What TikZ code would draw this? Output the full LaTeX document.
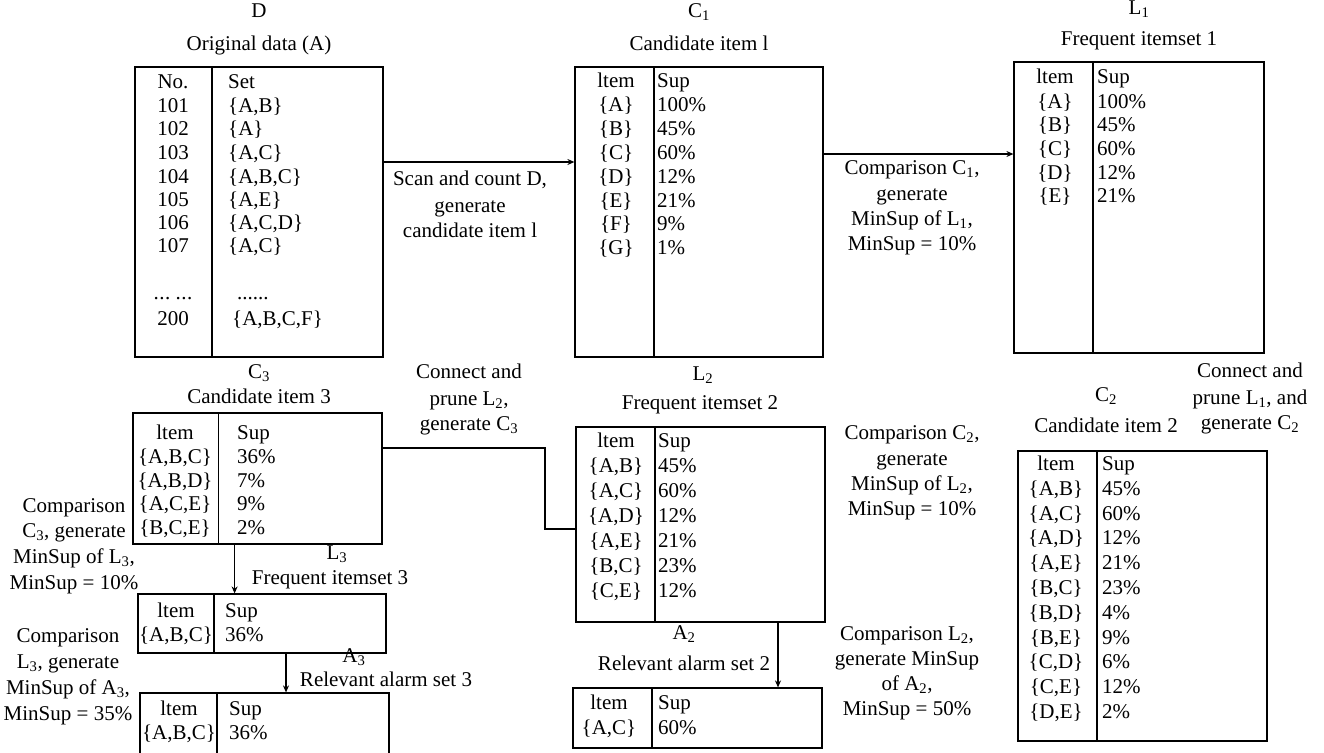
\documentclass[tikz,border=0pt]{standalone}
\usepackage{fontspec}
\setmainfont{Liberation Serif}
\usetikzlibrary{arrows.meta,fit}
\newcommand\tabfont{\fontsize{21}{25}\selectfont}
\begin{document}
\begin{tikzpicture}[x=1pt,y=-1pt,
  box/.style={draw, line width=1.2pt, inner sep=0pt},
  cell/.style={font=\tabfont, inner sep=0pt, anchor=mid},
  cellL/.style={font=\tabfont, inner sep=0pt, anchor=mid west},
  lbl/.style={font=\tabfont, inner sep=0pt, anchor=mid},
  rule/.style={line width=1.2pt},
  link/.style={line width=1.2pt},
  arr/.style={line width=1.2pt, -{Stealth[length=7pt,width=6pt]}}]
\useasboundingbox (0,0) rectangle (1324,752);

% ---------------- D: original data ----------------
\node[box, fit={(135,67) (383,357)}] (D) {};
\draw[rule] (212,67) -- (212,357);
\node[lbl] (D-name) at (259,15) {D};
\node[lbl] (D-title) at (259,48) {Original data (A)};
\foreach \y/\t in {86/No.,110/101,133/102,157/103,181/104,204/105,227/106,250/107,323/200}
  \node[cell] (D-a\y) at (173,\y) {\t};
\node[cell] (D-a297) at (173,297) {.\kern0.5pt.\kern0.5pt.\ .\kern0.5pt.\kern0.5pt.};
\foreach \y/\t in {86/Set,110/{\{A,B\}},133/{\{A\}},157/{\{A,C\}},181/{\{A,B,C\}},204/{\{A,E\}},227/{\{A,C,D\}},250/{\{A,C\}}}
  \node[cellL] (D-b\y) at (228,\y) {\t};
\node[cellL] (D-b297) at (237,297) {......};
\node[cellL] (D-b323) at (232,323) {\{A,B,C,F\}};

% ---------------- C1: candidate item 1 ----------------
\node[box, fit={(575,67) (823,357)}] (C1) {};
\draw[rule] (654,67) -- (654,357);
\node[lbl] (C1-name) at (699,15) {C\textsubscript{1}};
\node[lbl] (C1-title) at (699,48) {Candidate item l};
\foreach \y/\t in {85/ltem,109/{\{A\}},133/{\{B\}},157/{\{C\}},181/{\{D\}},205/{\{E\}},228/{\{F\}},252/{\{G\}}}
  \node[cell] (C1-a\y) at (616,\y) {\t};
\foreach \y/\t in {85/Sup,109/100\%,133/45\%,157/60\%,181/12\%,205/21\%,228/9\%,252/1\%}
  \node[cellL] (C1-b\y) at (657,\y) {\t};

% ---------------- L1: frequent itemset 1 ----------------
\node[box, fit={(1014,62) (1264,353)}] (L1) {};
\draw[rule] (1093,62) -- (1093,353);
\node[lbl] (L1-name) at (1139,12) {L\textsubscript{1}};
\node[lbl] (L1-title) at (1139,43) {Frequent itemset 1};
\foreach \y/\t in {81/ltem,106/{\{A\}},129/{\{B\}},153/{\{C\}},177/{\{D\}},200/{\{E\}}}
  \node[cell] (L1-a\y) at (1055,\y) {\t};
\foreach \y/\t in {81/Sup,106/100\%,129/45\%,153/60\%,177/12\%,200/21\%}
  \node[cellL] (L1-b\y) at (1097,\y) {\t};

% ---------------- C2: candidate item 2 ----------------
\node[box, fit={(1018,451) (1267,741)}] (C2) {};
\draw[rule] (1097,451) -- (1097,741);
\node[lbl] (C2-name) at (1106,399) {C\textsubscript{2}};
\node[lbl] (C2-title) at (1106,430) {Candidate item 2};
\foreach \y/\t in {468/ltem,493/{\{A,B\}},518/{\{A,C\}},542/{\{A,D\}},567/{\{A,E\}},592/{\{B,C\}},617/{\{B,D\}},642/{\{B,E\}},666/{\{C,D\}},691/{\{C,E\}},716/{\{D,E\}}}
  \node[cell] (C2-a\y) at (1056,\y) {\t};
\foreach \y/\t in {468/Sup,493/45\%,518/60\%,542/12\%,567/21\%,592/23\%,617/4\%,642/9\%,666/6\%,691/12\%,716/2\%}
  \node[cellL] (C2-b\y) at (1102,\y) {\t};

% ---------------- L2: frequent itemset 2 ----------------
\node[box, fit={(576,427) (825,622)}] (L2) {};
\draw[rule] (655,427) -- (655,622);
\node[lbl] (L2-name) at (703,378) {L\textsubscript{2}};
\node[lbl] (L2-title) at (700,407) {Frequent itemset 2};
\foreach \y/\t in {445/ltem,470/{\{A,B\}},495/{\{A,C\}},520/{\{A,D\}},545/{\{A,E\}},570/{\{B,C\}},595/{\{C,E\}}}
  \node[cell] (L2-a\y) at (616,\y) {\t};
\foreach \y/\t in {445/Sup,470/45\%,495/60\%,520/12\%,545/21\%,570/23\%,595/12\%}
  \node[cellL] (L2-b\y) at (658,\y) {\t};

% ---------------- A2: relevant alarm set 2 ----------------
\node[box, fit={(573,688) (822,748)}] (A2) {};
\draw[rule] (652,688) -- (652,748);
\node[lbl] (A2-name) at (684,637) {A\textsubscript{2}};
\node[lbl] (A2-title) at (684,668) {Relevant alarm set 2};
\node[cell] (A2-a1) at (609,707) {ltem};
\node[cell] (A2-a2) at (609,732) {\{A,C\}};
\node[cellL] (A2-b1) at (658,707) {Sup};
\node[cellL] (A2-b2) at (658,732) {60\%};

% ---------------- C3: candidate item 3 ----------------
\node[box, fit={(133,413) (382,544)}] (C3) {};
\draw[rule] (218.6,413) -- (218.6,544);
\node[lbl] (C3-name) at (259,376) {C\textsubscript{3}};
\node[lbl] (C3-title) at (259,401) {Candidate item 3};
\foreach \y/\t in {437/ltem,461/{\{A,B,C\}},485/{\{A,B,D\}},508/{\{A,C,E\}},532/{\{B,C,E\}}}
  \node[cell] (C3-a\y) at (175,\y) {\t};
\foreach \y/\t in {437/Sup,461/36\%,485/7\%,508/9\%,532/2\%}
  \node[cellL] (C3-b\y) at (237,\y) {\t};

% ---------------- L3: frequent itemset 3 ----------------
\node[box, fit={(138,594) (386,653)}] (L3) {};
\draw[rule] (214,594) -- (214,653);
\node[lbl] (L3-name) at (337,557) {L\textsubscript{3}};
\node[lbl] (L3-title) at (330,582) {Frequent itemset 3};
\node[cell] (L3-a1) at (176,615) {ltem};
\node[cell] (L3-a2) at (176,639) {\{A,B,C\}};
\node[cellL] (L3-b1) at (225,615) {Sup};
\node[cellL] (L3-b2) at (225,639) {36\%};

% ---------------- A3: relevant alarm set 3 ----------------
\node[box, fit={(140,693) (389,775)}] (A3) {};
\draw[rule] (217,693) -- (217,775);
\node[lbl] (A3-name) at (354,660) {A\textsubscript{3}};
\node[lbl] (A3-title) at (386,684) {Relevant alarm set 3};
\node[cell] (A3-a1) at (179,713) {ltem};
\node[cell] (A3-a2) at (179,737) {\{A,B,C\}};
\node[cellL] (A3-b1) at (229,713) {Sup};
\node[cellL] (A3-b2) at (229,737) {36\%};

% ---------------- step descriptions ----------------
\foreach \y/\t [count=\i] in {183/{Scan and count D,},210/generate,235/candidate item l}
  \node[lbl] (scan-\i) at (470,\y) {\t};
\foreach \y/\t [count=\i] in {172/{Comparison C\textsubscript{1},},198/generate,223/{MinSup of L\textsubscript{1},},248/MinSup = 10\%}
  \node[lbl] (cmpC1-\i) at (912,\y) {\t};
\foreach \y/\t [count=\i] in {375/Connect and,402/{prune L\textsubscript{1}, and},427/generate C\textsubscript{2}}
  \node[lbl] (prune1-\i) at (1250,\y) {\t};
\foreach \y/\t [count=\i] in {437/{Comparison C\textsubscript{2},},463/generate,488/{MinSup of L\textsubscript{2},},513/MinSup = 10\%}
  \node[lbl] (cmpC2-\i) at (912,\y) {\t};
\foreach \y/\t [count=\i] in {638/{Comparison L\textsubscript{2},},663/generate MinSup,688/{of A\textsubscript{2},},713/MinSup = 50\%}
  \node[lbl] (cmpL2-\i) at (907,\y) {\t};
\foreach \y/\t [count=\i] in {376/Connect and,403/{prune L\textsubscript{2},},428/generate C\textsubscript{3}}
  \node[lbl] (prune2-\i) at (469,\y) {\t};
\foreach \y/\t [count=\i] in {510/Comparison,535/{C\textsubscript{3}, generate},561/{MinSup of L\textsubscript{3},},587/MinSup = 10\%}
  \node[lbl] (cmpC3-\i) at (74,\y) {\t};
\foreach \y/\t [count=\i] in {640/Comparison,666/{L\textsubscript{3}, generate},692/{MinSup of A\textsubscript{3},},718/MinSup = 35\%}
  \node[lbl] (cmpL3-\i) at (68,\y) {\t};

% ---------------- connectors ----------------
\coordinate (yDC) at (0,162);
\coordinate (yCL) at (0,154);
\coordinate (yC3) at (0,448);
\coordinate (yL2) at (0,529);
\coordinate (bend) at (545,0);
\coordinate (xC3) at (234.6,0);
\coordinate (xL3) at (286,0);
\coordinate (xL2) at (778,0);
\draw[arr] (D.east |- yDC) -- (C1.west |- yDC);
\draw[arr] (C1.east |- yCL) -- (L1.west |- yCL);
\draw[link] (C3.east |- yC3) -- (bend |- yC3) -- (bend |- yL2) -- (L2.west |- yL2);
\draw[arr] (C3.south -| xC3) -- (L3.north -| xC3);
\draw[arr] (L3.south -| xL3) -- (A3.north -| xL3);
\draw[arr] (L2.south -| xL2) -- (A2.north -| xL2);
\end{tikzpicture}
\end{document}
